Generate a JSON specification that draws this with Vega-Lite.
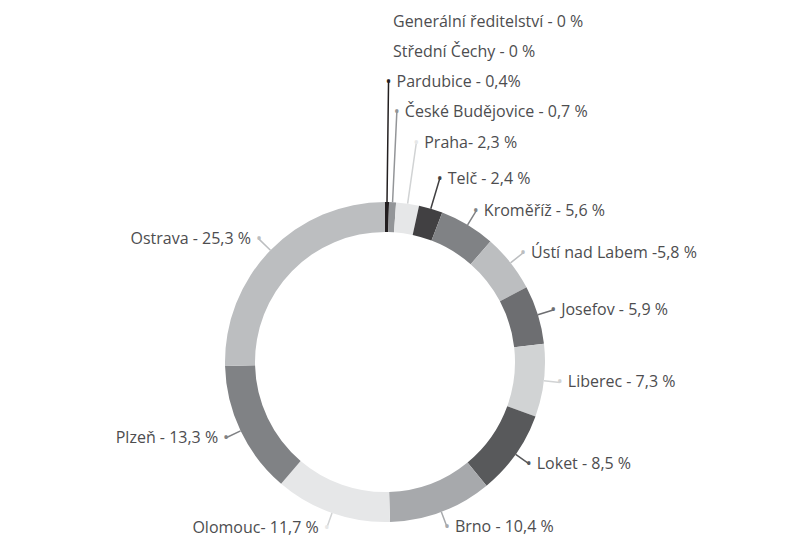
{
  "$schema": "https://vega.github.io/schema/vega-lite/v6.json",
  "width": 770,
  "height": 384,
  "autosize": {"type": "none"},
  "padding": {"left": 0, "top": 170, "right": 41, "bottom": 0},
  "background": "white",
  "config": {"view": {"stroke": null}, "text": {"font": "Open Sans"}},
  "data": {
    "values": [
      {"order": -1, "name": "Generální ředitelství", "value": 0, "label": "Generální ředitelství - 0 %"},
      {"order": 0, "name": "Střední Čechy", "value": 0, "label": "Střední Čechy - 0 %"},
      {"order": 1, "name": "Pardubice", "value": 0.4, "label": "Pardubice - 0,4%"},
      {"order": 2, "name": "České Budějovice", "value": 0.7, "label": "České Budějovice - 0,7 %"},
      {"order": 3, "name": "Praha", "value": 2.3, "label": "Praha- 2,3 %"},
      {"order": 4, "name": "Telč", "value": 2.4, "label": "Telč - 2,4 %"},
      {"order": 5, "name": "Kroměříž", "value": 5.6, "label": "Kroměříž - 5,6 %"},
      {"order": 6, "name": "Ústí nad Labem", "value": 5.8, "label": "Ústí nad Labem -5,8 %"},
      {"order": 7, "name": "Josefov", "value": 5.9, "label": "Josefov - 5,9 %"},
      {"order": 8, "name": "Liberec", "value": 7.3, "label": "Liberec - 7,3 %"},
      {"order": 9, "name": "Loket", "value": 8.5, "label": "Loket - 8,5 %"},
      {"order": 10, "name": "Brno", "value": 10.4, "label": "Brno - 10,4 %"},
      {"order": 11, "name": "Olomouc", "value": 11.7, "label": "Olomouc- 11,7 %"},
      {"order": 12, "name": "Plzeň", "value": 13.3, "label": "Plzeň - 13,3 %"},
      {"order": 13, "name": "Ostrava", "value": 25.3, "label": "Ostrava - 25,3 %"}
    ]
  },
  "transform": [
    {"stack": "value", "groupby": [], "sort": [{"field": "order", "order": "ascending"}], "as": ["v0", "v1"]}
  ],
  "layer": [
    {
      "mark": {"type": "arc", "outerRadius": 160, "innerRadius": 130},
      "encoding": {
        "theta": {"field": "v0", "type": "quantitative", "stack": null, "scale": {"domain": [0, 99.6], "nice": false}},
        "theta2": {"field": "v1"},
        "color": {
          "field": "name", "type": "nominal", "legend": null,
          "scale": {
            "domain": ["Generální ředitelství", "Střední Čechy", "Pardubice", "České Budějovice", "Praha", "Telč", "Kroměříž", "Ústí nad Labem", "Josefov", "Liberec", "Loket", "Brno", "Olomouc", "Plzeň", "Ostrava"],
            "range": ["#ffffff", "#ffffff", "#231F20", "#939598", "#E6E7E8", "#414042", "#808285", "#BCBEC0", "#6D6E71", "#D1D3D4", "#58595B", "#A7A9AC", "#E6E7E8", "#808285", "#BCBEC0"]
          }
        }
      }
    },
    {
      "transform": [{"filter": "datum.value > 0"}],
      "mark": {"type": "arc", "innerRadius": 160, "padAngle": 3.14, "strokeWidth": 1.5, "filled": false},
      "encoding": {
        "theta": {"field": "v0", "type": "quantitative", "stack": null, "scale": {"domain": [0, 99.6], "nice": false}},
        "theta2": {"field": "v1"},
        "radius": {"field": "order", "type": "quantitative", "scale": {"type": "linear", "domain": [-1, 4.5], "range": [340, 176], "clamp": true, "zero": false}},
        "stroke": {
          "field": "name", "type": "nominal", "legend": null,
          "scale": {
            "domain": ["Generální ředitelství", "Střední Čechy", "Pardubice", "České Budějovice", "Praha", "Telč", "Kroměříž", "Ústí nad Labem", "Josefov", "Liberec", "Loket", "Brno", "Olomouc", "Plzeň", "Ostrava"],
            "range": ["#ffffff", "#ffffff", "#231F20", "#939598", "#D1D3D4", "#414042", "#808285", "#BCBEC0", "#6D6E71", "#D1D3D4", "#58595B", "#A7A9AC", "#D1D3D4", "#808285", "#BCBEC0"]
          }
        }
      }
    },
    {
      "transform": [
        {"filter": "datum.value > 0"},
        {"fold": ["v0", "v1"], "as": ["edge", "angle"]},
        {"aggregate": [{"op": "mean", "field": "angle", "as": "mid"}], "groupby": ["name", "order", "label", "value"]}
      ],
      "mark": {"type": "text", "text": "•", "fontSize": 16, "align": "center", "baseline": "middle"},
      "encoding": {
        "theta": {"field": "mid", "type": "quantitative", "stack": null, "scale": {"domain": [0, 99.6], "nice": false}},
        "radius": {"field": "order", "type": "quantitative", "scale": {"type": "linear", "domain": [-1, 4.5], "range": [340, 176], "clamp": true, "zero": false}},
        "color": {"field": "name", "type": "nominal", "legend": null}
      }
    },
    {
      "transform": [
        {"filter": "datum.order <= 10"},
        {"fold": ["v0", "v1"], "as": ["edge", "angle"]},
        {"aggregate": [{"op": "mean", "field": "angle", "as": "mid"}], "groupby": ["name", "order", "label", "value"]}
      ],
      "mark": {"type": "text", "fontSize": 16, "align": "left", "baseline": "middle", "dx": 8, "color": "#4d4d4f"},
      "encoding": {
        "theta": {"field": "mid", "type": "quantitative", "stack": null, "scale": {"domain": [0, 99.6], "nice": false}},
        "radius": {"field": "order", "type": "quantitative", "scale": {"type": "linear", "domain": [-1, 4.5], "range": [340, 176], "clamp": true, "zero": false}},
        "text": {"field": "label", "type": "nominal"}
      }
    },
    {
      "transform": [
        {"filter": "datum.order >= 11"},
        {"fold": ["v0", "v1"], "as": ["edge", "angle"]},
        {"aggregate": [{"op": "mean", "field": "angle", "as": "mid"}], "groupby": ["name", "order", "label", "value"]}
      ],
      "mark": {"type": "text", "fontSize": 16, "align": "right", "baseline": "middle", "dx": -8, "color": "#4d4d4f"},
      "encoding": {
        "theta": {"field": "mid", "type": "quantitative", "stack": null, "scale": {"domain": [0, 99.6], "nice": false}},
        "radius": {"field": "order", "type": "quantitative", "scale": {"type": "linear", "domain": [-1, 4.5], "range": [340, 176], "clamp": true, "zero": false}},
        "text": {"field": "label", "type": "nominal"}
      }
    }
  ]
}
